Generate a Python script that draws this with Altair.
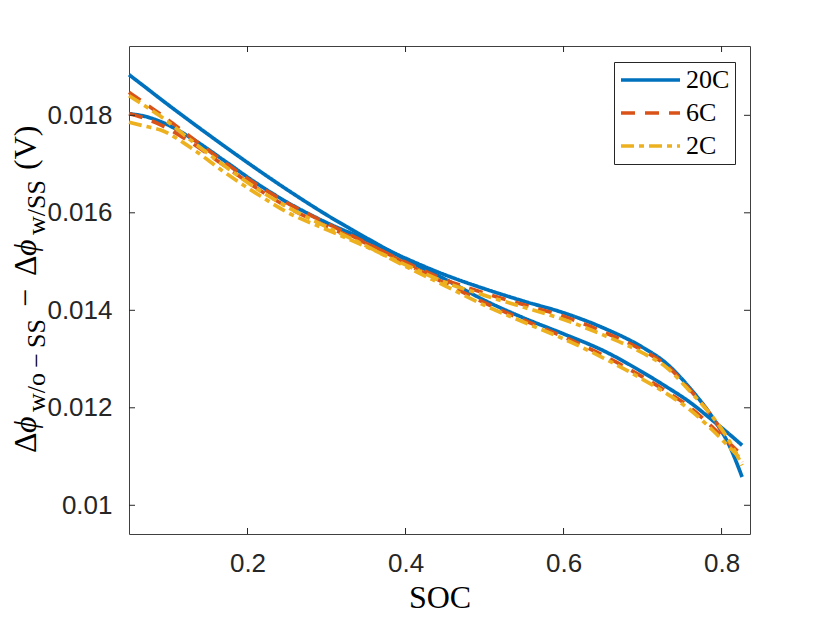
import altair as alt
import pandas as pd

# ---- data ----
soc = [0.05, 0.07, 0.09, 0.13, 0.17, 0.21, 0.25, 0.30, 0.35, 0.40, 0.45,
       0.50, 0.55, 0.60, 0.65, 0.70, 0.73, 0.76, 0.79, 0.81, 0.826]

v20_a = [0.018833, 0.018585, 0.018334, 0.017848, 0.017376, 0.016917, 0.016476,
         0.015959, 0.015489, 0.015044, 0.014638, 0.014205, 0.013840, 0.013516,
         0.013175, 0.012730, 0.012433, 0.012113, 0.011723, 0.011456, 0.011231]
v20_b = [0.018033, 0.017979, 0.017871, 0.017520, 0.017077, 0.016622, 0.016219,
         0.015799, 0.015446, 0.015067, 0.014728, 0.014441, 0.014185, 0.013949,
         0.013641, 0.013241, 0.012913, 0.012402, 0.011768, 0.011220, 0.010580]
v6_a = [0.018472, 0.018246, 0.018021, 0.017528, 0.017046, 0.016595, 0.016205,
        0.015785, 0.015385, 0.014964, 0.014554, 0.014154, 0.013795, 0.013456,
        0.013077, 0.012636, 0.012338, 0.012010, 0.011579, 0.011272, 0.011025]
v6_b = [0.018031, 0.017938, 0.017805, 0.017426, 0.016974, 0.016523, 0.016123,
        0.015723, 0.015374, 0.014985, 0.014626, 0.014353, 0.014113, 0.013877,
        0.013559, 0.013179, 0.012872, 0.012369, 0.011774, 0.011272, 0.010882]
v2_a = [0.018402, 0.018195, 0.017979, 0.017467, 0.016974, 0.016513, 0.016123,
        0.015713, 0.015323, 0.014903, 0.014503, 0.014103, 0.013754, 0.013415,
        0.013026, 0.012585, 0.012297, 0.011959, 0.011518, 0.011190, 0.010923]
v2_b = [0.017858, 0.017778, 0.017698, 0.017317, 0.016841, 0.016410, 0.016014,
        0.015657, 0.015307, 0.014933, 0.014576, 0.014306, 0.014062, 0.013811,
        0.013495, 0.013126, 0.012831, 0.012340, 0.011784, 0.011313, 0.010820]

rates = ["20C", "6C", "2C"]
x_ticks = [0.2, 0.4, 0.6, 0.8]
y_ticks = [0.010, 0.012, 0.014, 0.016, 0.018]
x_domain = [0.05, 0.836]
y_domain = [0.009411, 0.019422]

series = {("20C", "a"): v20_a, ("20C", "b"): v20_b,
          ("6C", "a"): v6_a, ("6C", "b"): v6_b,
          ("2C", "a"): v2_a, ("2C", "b"): v2_b}
rows = []
for (r, br), vals in series.items():
    for s, v in zip(soc, vals):
        rows.append({"soc": s, "v": v, "rate": r, "branch": br})
df = pd.DataFrame(rows)

W, H = 621, 488
TL = 6
AX = "#262626"

xs = alt.Scale(domain=x_domain, nice=False, zero=False)
ys = alt.Scale(domain=y_domain, nice=False, zero=False)
x_axis = alt.Axis(values=x_ticks, format=".1f", title="SOC", titleFont="Liberation Serif",
                  titleFontSize=32, titleFontWeight="normal", titleColor="black",
                  titlePadding=6, labelPadding=16)
y_axis = alt.Axis(values=y_ticks, format=".3~f", title=None, labelPadding=17)

color_scale = alt.Scale(domain=rates, range=["#0072BD", "#D95319", "#EDB120"])
dash_scale = alt.Scale(domain=rates, range=[[1, 0], [14, 10], [13, 5, 5, 5]])

layers = []
for r in rates:
    layers.append(
        alt.Chart(df).transform_filter(alt.datum.rate == r)
        .mark_line(strokeWidth=3.7, interpolate="monotone", strokeJoin="round")
        .encode(
            x=alt.X("soc:Q", scale=xs, axis=x_axis),
            y=alt.Y("v:Q", scale=ys, axis=y_axis),
            color=alt.Color("rate:N", scale=color_scale, sort=rates,
                            legend=alt.Legend(title=None)),
            strokeDash=alt.StrokeDash("rate:N", scale=dash_scale, sort=rates,
                                      legend=alt.Legend(title=None)),
            detail="branch:N",
        )
    )

xt = pd.DataFrame({"t": x_ticks})
yt = pd.DataFrame({"t": y_ticks})
tick_layers = [
    alt.Chart(xt).mark_rule(color=AX, strokeWidth=1).encode(
        x=alt.X("t:Q", scale=xs, axis=x_axis), y=alt.value(H), y2=alt.value(H - TL)),
    alt.Chart(xt).mark_rule(color=AX, strokeWidth=1).encode(
        x=alt.X("t:Q", scale=xs, axis=x_axis), y=alt.value(0), y2=alt.value(TL)),
    alt.Chart(yt).mark_rule(color=AX, strokeWidth=1).encode(
        y=alt.Y("t:Q", scale=ys, axis=y_axis), x=alt.value(0), x2=alt.value(TL)),
    alt.Chart(yt).mark_rule(color=AX, strokeWidth=1).encode(
        y=alt.Y("t:Q", scale=ys, axis=y_axis), x=alt.value(W), x2=alt.value(W - TL)),
]

one = pd.DataFrame({"k": [0]})
SERIF = "Liberation Serif"


def piece(txt, xpx, ypx, size, style="normal"):
    return alt.Chart(one).mark_text(
        text=txt, angle=270, align="left", baseline="alphabetic",
        font=SERIF, fontSize=size, fontStyle=style, color="black"
    ).encode(x=alt.value(xpx), y=alt.value(ypx))


MB, SB = -93, -84
title_layers = [
    piece("Δ", MB, 407, 32),
    piece("ϕ", MB, 387, 32, "italic"),
    piece("w/o\u2009−\u2009SS", SB, 366, 26),
    piece("−", MB, 261, 32),
    piece("Δ", MB, 230, 32),
    piece("ϕ", MB, 210, 32, "italic"),
    piece("w/SS", SB, 189, 26),
    piece("(V)", MB, 124, 32),
]

chart = alt.layer(*layers, *tick_layers, *title_layers).properties(
    width=W, height=H,
    autosize=alt.AutoSizeParams(type="none"),
    padding={"left": 121, "top": 38, "right": 72, "bottom": 81},
).configure_view(
    stroke="#404040", strokeWidth=1
).configure_axis(
    labelFont="Liberation Sans", labelFontSize=26, labelColor=AX,
    ticks=False, tickSize=0, domain=False, grid=False
).configure_legend(
    orient="none", legendX=485, legendY=16, padding=5,
    strokeColor="#262626", strokeWidth=1, fillColor="white", cornerRadius=0,
    symbolType="stroke", symbolSize=3481, symbolStrokeWidth=3.7,
    clipHeight=26, rowPadding=7, labelOffset=4,
    labelFont=SERIF, labelFontSize=26, labelColor="black"
)

chart.save("out.html", embed_options={"renderer": "svg", "actions": False})
